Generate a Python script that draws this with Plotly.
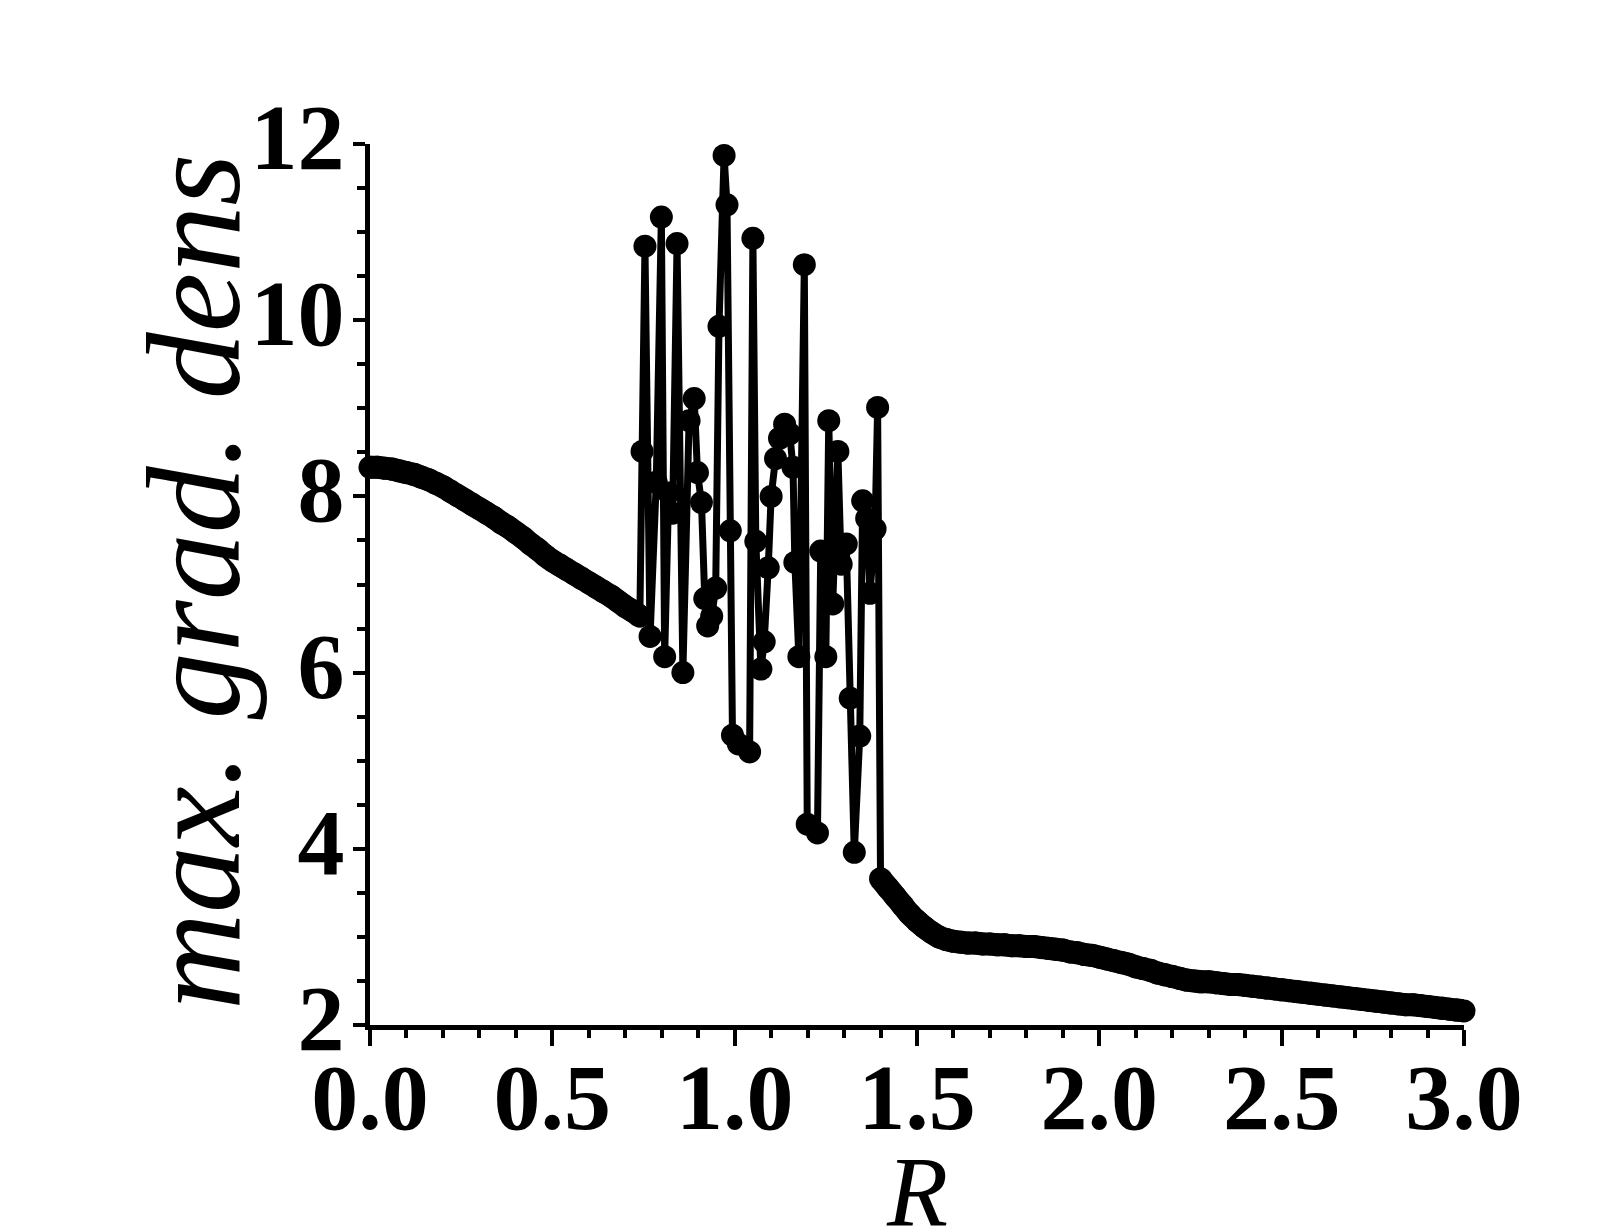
import plotly.graph_objects as go

# smooth branch, R = 0 .. 0.74
r_left = [0.00, 0.02, 0.04, 0.06, 0.08, 0.10, 0.12, 0.14, 0.16, 0.18, 0.20, 0.22, 0.24,
          0.26, 0.28, 0.30, 0.32, 0.34, 0.36, 0.38, 0.40, 0.42, 0.44, 0.46, 0.48, 0.50,
          0.52, 0.54, 0.56, 0.58, 0.60, 0.62, 0.64, 0.66, 0.68, 0.70, 0.72, 0.74]
g_left = [8.33, 8.33, 8.32, 8.31, 8.29, 8.27, 8.25, 8.22, 8.19, 8.15, 8.11, 8.06, 8.01,
          7.96, 7.91, 7.86, 7.81, 7.76, 7.70, 7.65, 7.59, 7.53, 7.46, 7.40, 7.33, 7.27,
          7.22, 7.17, 7.12, 7.07, 7.02, 6.97, 6.92, 6.87, 6.81, 6.75, 6.70, 6.64]

# chaotic branch, R = 0.746 .. 1.392
r_mid = [0.746, 0.754, 0.768, 0.785, 0.799, 0.808, 0.819, 0.830, 0.842, 0.858, 0.875,
         0.889, 0.898, 0.909, 0.918, 0.926, 0.937, 0.948, 0.957, 0.971, 0.979, 0.988,
         0.994, 1.010, 1.041, 1.050, 1.058, 1.072, 1.081, 1.092, 1.100, 1.112, 1.123,
         1.137, 1.151, 1.160, 1.165, 1.176, 1.191, 1.199, 1.227, 1.236, 1.250, 1.258,
         1.269, 1.283, 1.292, 1.306, 1.317, 1.328, 1.343, 1.351, 1.362, 1.371, 1.385,
         1.392]
g_mid = [8.51, 10.84, 6.41, 8.16, 11.17, 6.18, 8.04, 7.81, 10.87, 6.00, 8.86,
         9.11, 8.27, 7.93, 6.84, 6.53, 6.64, 6.96, 9.93, 11.87, 11.31, 7.61,
         5.29, 5.19, 5.10, 10.93, 7.49, 6.04, 6.35, 7.19, 8.00, 8.43, 8.66,
         8.82, 8.71, 8.33, 7.25, 6.18, 10.63, 4.28, 4.18, 7.38, 6.18, 8.86,
         6.78, 8.51, 7.23, 7.46, 5.71, 3.96, 5.28, 7.95, 7.75, 6.90, 7.63,
         9.01]

# smooth branch, R = 1.40 .. 3.00
r_right = [1.40, 1.42, 1.44, 1.46, 1.48, 1.50, 1.52, 1.54, 1.56, 1.58, 1.60, 1.62, 1.64,
           1.66, 1.68, 1.70, 1.72, 1.74, 1.76, 1.78, 1.80, 1.82, 1.84, 1.86, 1.88, 1.90,
           1.92, 1.94, 1.96, 1.98, 2.00, 2.02, 2.04, 2.06, 2.08, 2.10, 2.12, 2.14, 2.16,
           2.18, 2.20, 2.22, 2.24, 2.26, 2.28, 2.30, 2.32, 2.34, 2.36, 2.38, 2.40, 2.42,
           2.44, 2.46, 2.48, 2.50, 2.52, 2.54, 2.56, 2.58, 2.60, 2.62, 2.64, 2.66, 2.68,
           2.70, 2.72, 2.74, 2.76, 2.78, 2.80, 2.82, 2.84, 2.86, 2.88, 2.90, 2.92, 2.94,
           2.96, 2.98, 3.00]
g_right = [3.66, 3.56, 3.46, 3.36, 3.26, 3.18, 3.11, 3.05, 3.00, 2.97, 2.95, 2.94, 2.93,
           2.93, 2.92, 2.92, 2.91, 2.91, 2.90, 2.90, 2.89, 2.89, 2.88, 2.87, 2.86, 2.85,
           2.83, 2.82, 2.80, 2.79, 2.77, 2.75, 2.73, 2.71, 2.69, 2.66, 2.64, 2.62, 2.59,
           2.57, 2.55, 2.53, 2.51, 2.50, 2.49, 2.49, 2.48, 2.47, 2.46, 2.46, 2.45, 2.44,
           2.43, 2.42, 2.41, 2.40, 2.39, 2.38, 2.37, 2.36, 2.35, 2.34, 2.33, 2.32, 2.31,
           2.30, 2.29, 2.28, 2.27, 2.26, 2.25, 2.24, 2.23, 2.23, 2.22, 2.21, 2.20, 2.19,
           2.18, 2.17, 2.16]

x_ticks = [0.0, 0.5, 1.0, 1.5, 2.0, 2.5, 3.0]
x_ticktext = ["0.0", "0.5", "1.0", "1.5", "2.0", "2.5", "3.0"]
y_ticks = [2, 4, 6, 8, 10, 12]
y_ticktext = ["2", "4", "6", "8", "10", "12"]

R = r_left + r_mid + r_right
G = g_left + g_mid + g_right

FONT = "Times New Roman, Liberation Serif, serif"

fig = go.Figure()
# thick bands for the densely sampled smooth branches
for rx, gy in ((r_left, g_left), (r_right, g_right)):
    fig.add_trace(go.Scatter(
        x=rx, y=gy, mode="lines",
        line=dict(color="black", width=23, shape="spline", smoothing=0.8),
        showlegend=False, cliponaxis=False, hoverinfo="skip",
    ))
fig.add_trace(go.Scatter(
    x=R, y=G, mode="lines+markers",
    line=dict(color="black", width=7),
    marker=dict(color="black", size=23, line=dict(width=0)),
    showlegend=False, cliponaxis=False,
))

tick_font = dict(family=FONT, size=94, color="black", weight="bold")

fig.update_xaxes(
    range=[0, 3], showgrid=False, zeroline=False,
    showline=True, linecolor="black", linewidth=4.5,
    ticks="outside", ticklen=16, tickwidth=4, tickcolor="black",
    tickvals=x_ticks, ticktext=x_ticktext, tickfont=tick_font,
    ticklabelstandoff=-30,
    minor=dict(dtick=0.1, ticks="outside", ticklen=8, tickwidth=4, tickcolor="black"),
)
fig.update_yaxes(
    range=[2, 12], showgrid=False, zeroline=False,
    showline=True, linecolor="black", linewidth=4.5,
    ticks="outside", ticklen=12, tickwidth=4, tickcolor="black",
    tickvals=y_ticks, ticktext=y_ticktext, tickfont=tick_font,
    ticklabelstandoff=-10, ticklabelshift=-8,
    minor=dict(dtick=0.5, ticks="outside", ticklen=8, tickwidth=4, tickcolor="black"),
)

fig.add_annotation(
    text="R", xref="paper", yref="paper", x=0.5, y=-0.189,
    xanchor="center", yanchor="middle", showarrow=False,
    font=dict(family=FONT, size=100, color="black", style="italic"),
)
fig.add_annotation(
    text="max. grad. dens", xref="paper", yref="paper", x=-0.161, y=0.503,
    xanchor="center", yanchor="middle", showarrow=False, textangle=-90,
    font=dict(family=FONT, size=134, color="black", style="italic"),
)

fig.update_layout(
    width=1609, height=1232,
    margin=dict(l=370, r=145, t=144, b=207, autoexpand=False),
    paper_bgcolor="white", plot_bgcolor="white",
)

fig.write_html("out.html")
